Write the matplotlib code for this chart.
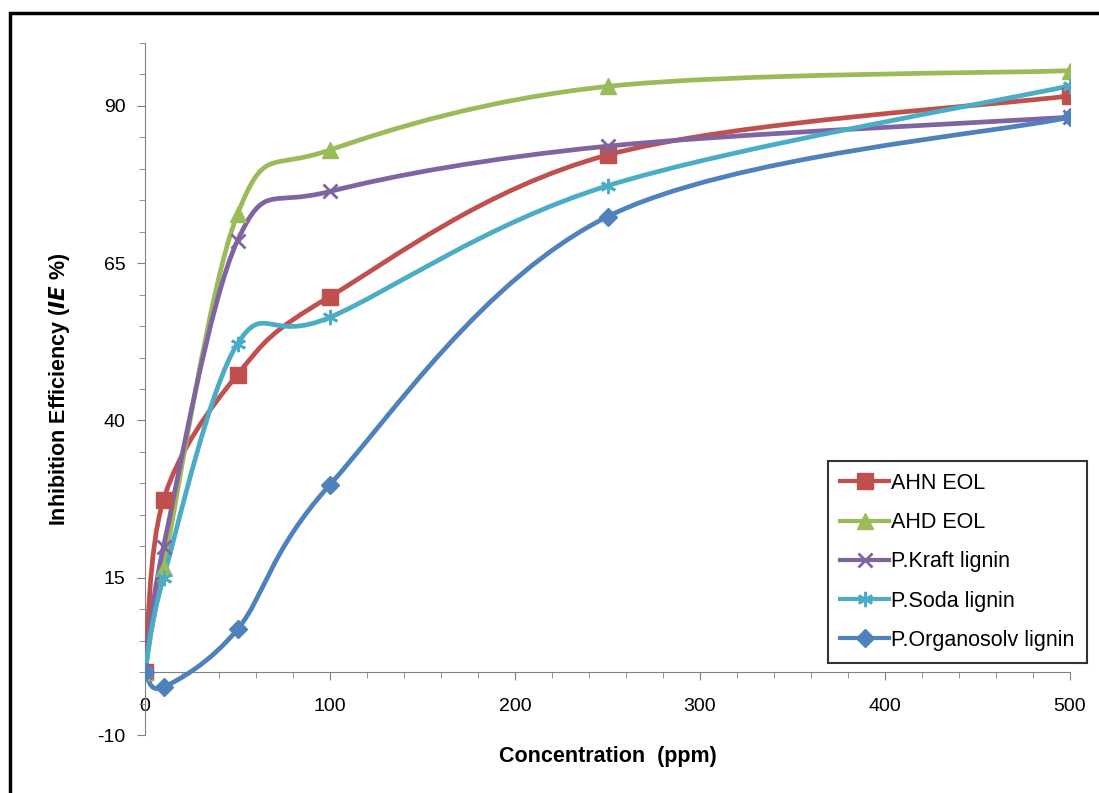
import numpy as np
import matplotlib
matplotlib.use("Agg")
import matplotlib.pyplot as plt
from matplotlib.path import Path
from matplotlib.patches import PathPatch, Rectangle

### Données
conc = [0, 10, 50, 100, 250, 500]  # Concentration (ppm)
ahn_eol = [0, 27.4, 47.3, 59.7, 82.2, 91.6]
ahd_eol = [0, 16.6, 72.8, 83.0, 93.1, 95.6]
kraft = [0, 19.9, 68.6, 76.4, 83.6, 88.2]
soda = [0, 15.0, 52.2, 56.4, 77.3, 93.2]
organosolv = [0, -2.4, 6.8, 29.8, 72.4, 88.2]

noms = ["AHN EOL", "AHD EOL", "P.Kraft lignin", "P.Soda lignin", "P.Organosolv lignin"]
series = [ahn_eol, ahd_eol, kraft, soda, organosolv]
couleurs = ["#C0504D", "#9BBB59", "#8064A2", "#4BACC6", "#4F81BD"]
marqueurs = ["s", "^", "x", (6, 2, 0), "D"]
tailles = [11, 11, 10, 11, 9]

y_ticks = [-10, 15, 40, 65, 90]
x_ticks = [0, 100, 200, 300, 400, 500]

plt.rcParams['font.family'] = ['Liberation Sans', 'DejaVu Sans']
plt.rcParams['axes.unicode_minus'] = False


def courbe_lissee(x, y):
    """Chemin de Bézier façon Excel (Catmull-Rom) passant par les points"""
    p = np.column_stack([x, y]).astype(float)
    n = len(p)
    verts = [p[0]]
    codes = [Path.MOVETO]
    for i in range(n - 1):
        p0 = p[i - 1] if i > 0 else p[i]
        p3 = p[i + 2] if i + 2 < n else p[i + 1]
        c1 = p[i] + (p[i + 1] - p0) / 6
        c2 = p[i + 1] - (p3 - p[i]) / 6
        verts += [c1, c2, p[i + 1]]
        codes += [Path.CURVE4] * 3
    return Path(verts, codes)


fig = plt.figure(figsize=(10.99, 7.93), dpi=100)
ax = fig.add_axes([145 / 1099, 1 - 735 / 793, (1070 - 145) / 1099, (735 - 43) / 793])

# Lissage calculé en pixels (comme Excel), puis ramené aux données
sx = 925 / 500
sy = 628 / 100
for nom, ys, c, m, ms in zip(noms, series, couleurs, marqueurs, tailles):
    chemin = courbe_lissee(np.array(conc) * sx, np.array(ys) * sy)
    chemin = Path(chemin.vertices / [sx, sy], chemin.codes)
    ax.add_patch(PathPatch(chemin, fill=False, edgecolor=c, lw=3.4, zorder=3,
                           capstyle='round', joinstyle='round'))
    mew = 2 if m in ("x", (6, 2, 0)) else 1
    ax.plot(conc, ys, linestyle='none', marker=m, color=c, markersize=ms,
            markeredgewidth=mew, zorder=4)
    ax.plot([], [], color=c, lw=3, marker=m, markersize=ms, markeredgewidth=mew, label=nom)

ax.set_xlim(0, 500)
ax.set_ylim(-10, 100)
ax.spines['top'].set_visible(False)
ax.spines['right'].set_visible(False)
ax.spines['bottom'].set_position(('data', 0))
ax.spines['left'].set_color('#808080')
ax.spines['bottom'].set_color('#808080')

ax.set_xticks(x_ticks)
ax.set_xticks(np.arange(0, 501, 20), minor=True)
ax.set_yticks(y_ticks)
ax.set_yticks(np.arange(-10, 101, 5), minor=True)
ax.tick_params(axis='both', which='both', direction='out', color='#808080', labelsize=14)
ax.tick_params(axis='both', which='major', length=6)
ax.tick_params(axis='both', which='minor', length=4)
ax.tick_params(axis='x', pad=13)
ax.tick_params(axis='y', pad=8)

ax.set_xlabel("Concentration  (ppm)", fontsize=15.5, fontweight='bold', labelpad=22)
ax.set_ylabel("Inhibition Efficiency ($\\mathbfit{IE}$ %)", fontsize=15.5, fontweight='bold', labelpad=18)

leg = ax.legend(loc='lower right', bbox_to_anchor=(1.025, 0.095), fontsize=15.5,
                frameon=True, fancybox=False, edgecolor='black', handlelength=2.3,
                handletextpad=0.1, labelspacing=0.85, borderpad=0.55, borderaxespad=0.3)
leg.get_frame().set_linewidth(1.5)

# Cadre de la zone de graphique
fig.patches.append(Rectangle((10 / 1099, -0.1), 1.2, 1 - 13 / 793 + 0.1, transform=fig.transFigure,
                             fill=False, edgecolor='black', lw=2.5))

plt.savefig('out.png', dpi=100)
